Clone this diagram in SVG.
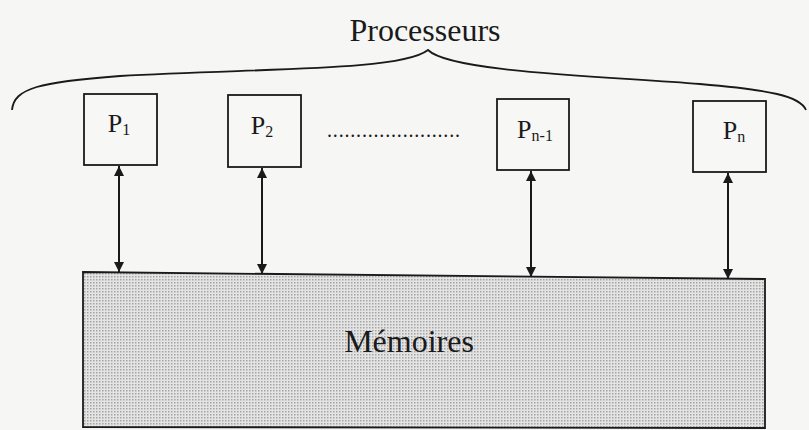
<svg xmlns="http://www.w3.org/2000/svg" width="809" height="430" viewBox="0 0 809 430">
  <style>
    .box { fill: #f7f7f5; stroke: #1a1a1a; stroke-width: 1.8; }
    .lbl { font-family: "Liberation Serif", "Times New Roman", serif; fill: #1a1a1a; }
    .plbl { font-size: 26px; text-anchor: middle; }
    .sub { font-size: 16px; }
    .link { stroke: #1a1a1a; stroke-width: 2; fill: none; marker-start: url(#head); marker-end: url(#head); }
  </style>
  <defs>
    <marker id="head" viewBox="0 0 10 10" refX="10" refY="5" markerWidth="10" markerHeight="10" markerUnits="userSpaceOnUse" orient="auto-start-reverse">
      <path d="M0,0 L10,5 L0,10 Z" fill="#1a1a1a"/>
    </marker>
    <pattern id="halftone" width="3" height="3" patternUnits="userSpaceOnUse">
      <rect width="3" height="3" fill="#e4e4e4"/>
      <rect x="0" y="0" width="1.5" height="1.5" fill="#a4a4a4"/>
    </pattern>
  </defs>

  <rect width="809" height="430" fill="#f6f6f4"/>

  <!-- brace grouping the processors -->
  <g id="processeurs">
    <path d="M12,110 C14,88 40,82 120,76 C250,68 400,72 428,50 C450,72 600,76 700,84 C770,90 800,96 806,110" fill="none" stroke="#1a1a1a" stroke-width="1.8"/>
    <text class="lbl" x="425" y="41" font-size="32" text-anchor="middle">Processeurs</text>
  </g>

  <g id="p1">
    <rect class="box" x="84" y="94" width="73" height="71"/>
    <text class="lbl plbl" x="119" y="132">P<tspan class="sub" dy="3">1</tspan></text>
  </g>
  <g id="p2">
    <rect class="box" x="228" y="95" width="73" height="72"/>
    <text class="lbl plbl" x="262" y="134">P<tspan class="sub" dy="3">2</tspan></text>
  </g>
  <g id="dots">
    <text class="lbl" x="327" y="137" font-size="20" textLength="133">.......................</text>
  </g>
  <g id="pn1">
    <rect class="box" x="497" y="99" width="72" height="71"/>
    <text class="lbl plbl" x="535" y="138">P<tspan class="sub" dy="3">n-1</tspan></text>
  </g>
  <g id="pn">
    <rect class="box" x="693" y="101" width="73" height="71"/>
    <text class="lbl plbl" x="734" y="139">P<tspan class="sub" dy="3">n</tspan></text>
  </g>

  <g id="memoires">
    <polygon points="83,272 765,279 765,428 83,427" fill="url(#halftone)" stroke="#1a1a1a" stroke-width="1.8"/>
    <text class="lbl" x="409" y="352" font-size="32" text-anchor="middle">Mémoires</text>
  </g>

  <g id="connectors">
    <line class="link" x1="119" y1="166" x2="119" y2="272"/>
    <line class="link" x1="262" y1="168" x2="262" y2="274"/>
    <line class="link" x1="531" y1="171" x2="531" y2="277"/>
    <line class="link" x1="728" y1="173" x2="728" y2="279"/>
  </g>
</svg>
